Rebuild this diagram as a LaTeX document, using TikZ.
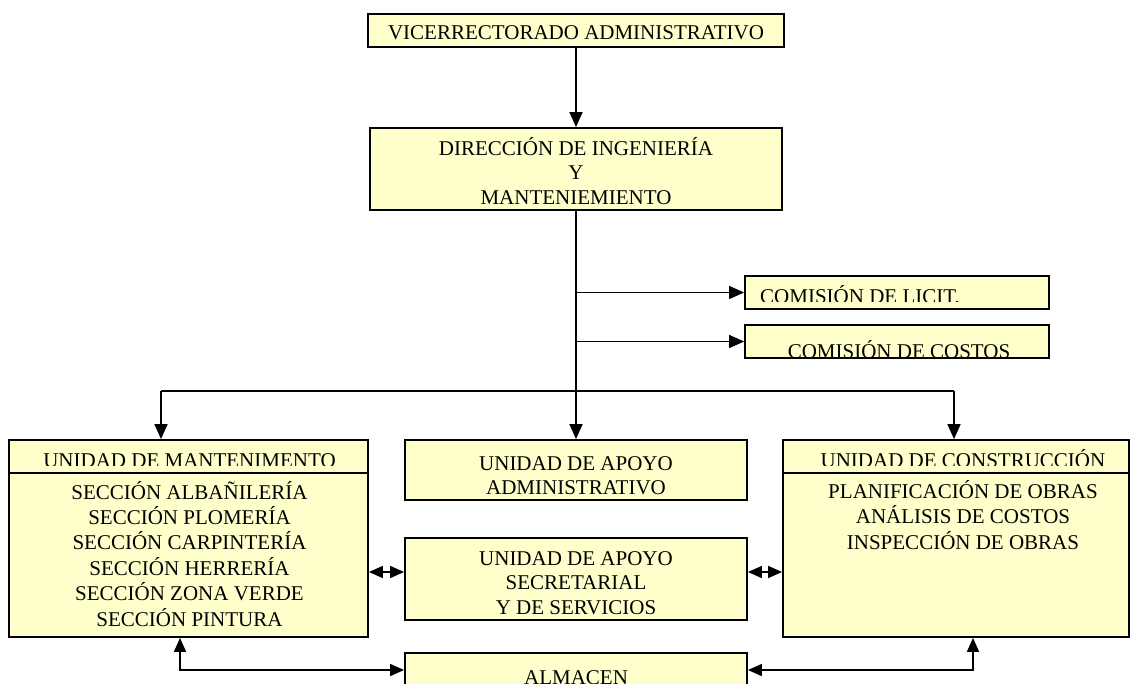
\documentclass[tikz,border=0pt]{standalone}
\usepackage{fontspec}
\setmainfont{Liberation Serif}
\usetikzlibrary{arrows.meta}
\definecolor{boxfill}{HTML}{FFFFCC}
\newcommand{\stack}[1]{\begin{tabular}[t]{@{}c@{}}#1\end{tabular}}
\tikzset{
  unit/.style={draw=black, line width=1.8pt, fill=boxfill, inner sep=0pt},
  link/.style={line width=1.6pt},
  arr/.style={link, -{Triangle[length=15pt,width=13pt]}},
  darr/.style={link, {Triangle[length=14pt,width=12pt]}-{Triangle[length=14pt,width=12pt]}},
  txt/.style={anchor=base, inner sep=0pt, font=\fontsize{21}{24.6}\selectfont},
  hdr/.style={anchor=base, inner sep=0pt, font=\fontsize{21}{24}\selectfont},
}
\begin{document}
\begin{tikzpicture}[x=1pt, y=-1pt]
  \useasboundingbox (0,0) rectangle (1130,683);
  \clip (0,0) rectangle (1130,683);
  \fill[white] (0,0) rectangle (1130,683);

  % boxes
  \node[unit, minimum width=416pt, minimum height=33pt] (vra) at (576,30.5) {};
  \node[unit, minimum width=412pt, minimum height=82pt] (dir) at (576,169) {};
  \node[unit, minimum width=304pt, minimum height=33pt] (lic) at (897,292.5) {};
  \node[unit, minimum width=304pt, minimum height=33pt] (cos) at (897,341.5) {};
  \node[unit, minimum width=359pt, minimum height=197pt] (mant) at (188.5,538.5) {};
  \node[unit, minimum width=342pt, minimum height=60pt] (apo) at (576,470) {};
  \node[unit, minimum width=342pt, minimum height=82pt] (sec) at (576,579) {};
  \node[unit, minimum width=342pt, minimum height=34pt] (alm) at (576,670) {};
  \node[unit, minimum width=346pt, minimum height=197pt] (con) at (956,538.5) {};

  % header dividers
  \draw[line width=1.8pt] (mant.west |- 0,473) -- (mant.east |- 0,473);
  \draw[line width=1.8pt] (con.west |- 0,473) -- (con.east |- 0,473);

  % texts
  \node[txt] (vra-t) at (576,39) {VICERRECTORADO ADMINISTRATIVO};
  \node[txt] (dir-t) at (576,155) {\stack{DIRECCIÓN DE INGENIERÍA\\ Y\\ MANTENIEMIENTO}};
  \begin{scope}
    \clip (745,276) rectangle (1049,301.7);
    \node[txt, anchor=base west] (lic-t) at (760,303.5) {COMISIÓN DE LICIT.};
  \end{scope}
  \begin{scope}
    \clip (745,325) rectangle (1049,357);
    \node[txt] (cos-t) at (899,358.5) {COMISIÓN DE COSTOS};
  \end{scope}
  \begin{scope}
    \clip (9,440) rectangle (368,465.5);
    \node[hdr] (mant-h) at (189.5,467.5) {UNIDAD DE MANTENIMENTO};
  \end{scope}
  \begin{scope}
    \clip (783,440) rectangle (1129,465.5);
    \node[hdr] (con-h) at (963,467.5) {UNIDAD DE CONSTRUCCIÓN};
  \end{scope}
  \node[txt] (mant-t) at (189.5,499) {\stack{SECCIÓN ALBAÑILERÍA\\ SECCIÓN PLOMERÍA\\ SECCIÓN CARPINTERÍA\\ SECCIÓN HERRERÍA\\ SECCIÓN ZONA VERDE\\ SECCIÓN PINTURA}};
  \node[txt] (con-t) at (963,498.5) {\stack{PLANIFICACIÓN DE OBRAS\\ ANÁLISIS DE COSTOS\\ INSPECCIÓN DE OBRAS}};
  \node[txt] (apo-t) at (576,470) {\stack{UNIDAD DE APOYO\\ ADMINISTRATIVO}};
  \node[txt] (sec-t) at (576,565) {\stack{UNIDAD DE APOYO\\ SECRETARIAL\\ Y DE SERVICIOS}};
  \node[txt] (alm-t) at (576,684) {ALMACEN};

  % connectors
  \draw[arr] (vra.south) -- (dir.north);
  \draw[arr] (dir.south) -- (apo.north);
  \draw[arr] (lic.west -| dir.south) -- (lic.west);
  \draw[arr] (cos.west -| dir.south) -- (cos.west);
  \coordinate (busL) at (161,391);
  \coordinate (busR) at (954,391);
  \draw[link] (busL) -- (busR);
  \draw[arr] (busL) -- (busL |- mant.north);
  \draw[arr] (busR) -- (busR |- con.north);
  \draw[darr] (mant.east |- 0,572) -- (sec.west |- 0,572);
  \draw[darr] (sec.east |- 0,572) -- (con.west |- 0,572);
  \draw[darr] (mant.south -| 180,0) |- (alm.west);
  \draw[darr] (con.south -| 973,0) |- (alm.east);
\end{tikzpicture}
\end{document}
